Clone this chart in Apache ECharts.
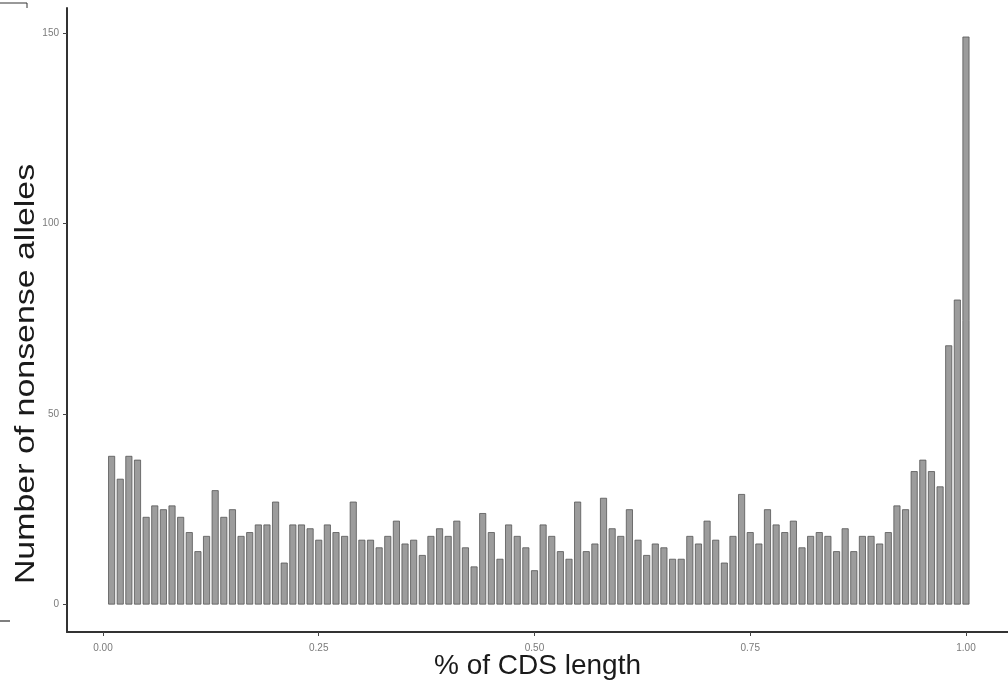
<!DOCTYPE html>
<html>
<head>
<meta charset="utf-8">
<script src="https://cdn.jsdelivr.net/npm/echarts@6/dist/echarts.min.js"></script>
<style>
  html, body { margin: 0; padding: 0; background: #fff; }
  #main { width: 1008px; height: 685px; }
</style>
</head>
<body>
<div id="main"></div>
<script>
// 位置 (fraction of CDS length), one bin per 0.01
const cdsBins = [
  0.01, 0.02, 0.03, 0.04, 0.05, 0.06, 0.07, 0.08, 0.09, 0.10,
  0.11, 0.12, 0.13, 0.14, 0.15, 0.16, 0.17, 0.18, 0.19, 0.20,
  0.21, 0.22, 0.23, 0.24, 0.25, 0.26, 0.27, 0.28, 0.29, 0.30,
  0.31, 0.32, 0.33, 0.34, 0.35, 0.36, 0.37, 0.38, 0.39, 0.40,
  0.41, 0.42, 0.43, 0.44, 0.45, 0.46, 0.47, 0.48, 0.49, 0.50,
  0.51, 0.52, 0.53, 0.54, 0.55, 0.56, 0.57, 0.58, 0.59, 0.60,
  0.61, 0.62, 0.63, 0.64, 0.65, 0.66, 0.67, 0.68, 0.69, 0.70,
  0.71, 0.72, 0.73, 0.74, 0.75, 0.76, 0.77, 0.78, 0.79, 0.80,
  0.81, 0.82, 0.83, 0.84, 0.85, 0.86, 0.87, 0.88, 0.89, 0.90,
  0.91, 0.92, 0.93, 0.94, 0.95, 0.96, 0.97, 0.98, 0.99, 1.00
];
// 数量 nonsense alleles per bin
const alleleCounts = [
  39, 33, 39, 38, 23, 26, 25, 26, 23, 19,
  14, 18, 30, 23, 25, 18, 19, 21, 21, 27,
  11, 21, 21, 20, 17, 21, 19, 18, 27, 17,
  17, 15, 18, 22, 16, 17, 13, 18, 20, 18,
  22, 15, 10, 24, 19, 12, 21, 18, 15, 9,
  21, 18, 14, 12, 27, 14, 16, 28, 20, 18,
  25, 17, 13, 16, 15, 12, 12, 18, 16, 22,
  17, 11, 18, 29, 19, 16, 25, 21, 19, 22,
  15, 18, 19, 18, 14, 20, 14, 18, 18, 16,
  19, 26, 25, 35, 38, 35, 31, 68, 80, 149
];
// 刻度
const xTicks = [0, 0.25, 0.5, 0.75, 1];
const yTicks = [0, 50, 100, 150];

const chart = echarts.init(document.getElementById('main'), null, { renderer: 'canvas' });

const barData = cdsBins.map((x, i) => [x, alleleCounts[i]]);

const fontFam = 'Liberation Sans, Arial, sans-serif';
const tickLabel = { color: '#7a7a7a', fontSize: 10, fontFamily: fontFam };

const option = {
  animation: false,
  backgroundColor: '#ffffff',
  grid: { left: 67, right: 0, top: 8, bottom: 53, containLabel: false, outerBoundsMode: 'none' },
  xAxis: {
    type: 'value',
    min: -0.0417,
    max: 1.0487,
    name: '% of CDS length',
    nameLocation: 'middle',
    nameGap: 20,
    nameMoveOverlap: false,
    nameTextStyle: { color: '#1a1a1a', fontSize: 28, fontFamily: fontFam, verticalAlign: 'top' },
    splitLine: { show: false },
    axisLine: { show: true, onZero: false, lineStyle: { color: '#333', width: 2 } },
    axisTick: { show: true, customValues: xTicks, length: 4, lineStyle: { color: '#444', width: 1 } },
    axisLabel: {
      customValues: xTicks,
      margin: 11,
      formatter: v => v.toFixed(2),
      ...tickLabel
    }
  },
  yAxis: {
    type: 'value',
    min: -7.2,
    max: 156.5,
    splitLine: { show: false },
    axisLine: { show: true, onZero: false, lineStyle: { color: '#333', width: 2 } },
    axisTick: { show: true, customValues: yTicks, length: 4, lineStyle: { color: '#444', width: 1 } },
    axisLabel: {
      customValues: yTicks,
      margin: 8,
      ...tickLabel
    }
  },
  series: [{
    type: 'bar',
    data: barData,
    barWidth: 7,
    itemStyle: { color: '#9c9c9c', borderColor: '#555', borderWidth: 0.8 }
  }],
  graphic: [
    {
      type: 'text',
      x: 26, y: 374,
      rotation: Math.PI / 2,
      scaleX: 1.13,
      scaleY: 0.93,
      style: {
        text: 'Number of nonsense alleles',
        fill: '#1a1a1a',
        font: '30px ' + fontFam,
        align: 'center',
        verticalAlign: 'middle'
      }
    },
    { type: 'polyline', shape: { points: [[0, 3], [27, 3], [27, 8]] }, style: { stroke: '#333', lineWidth: 1, fill: null } },
    { type: 'line', shape: { x1: 0, y1: 621, x2: 10, y2: 621 }, style: { stroke: '#555', lineWidth: 1.5 } }
  ]
};

chart.setOption(option);
</script>
</body>
</html>
